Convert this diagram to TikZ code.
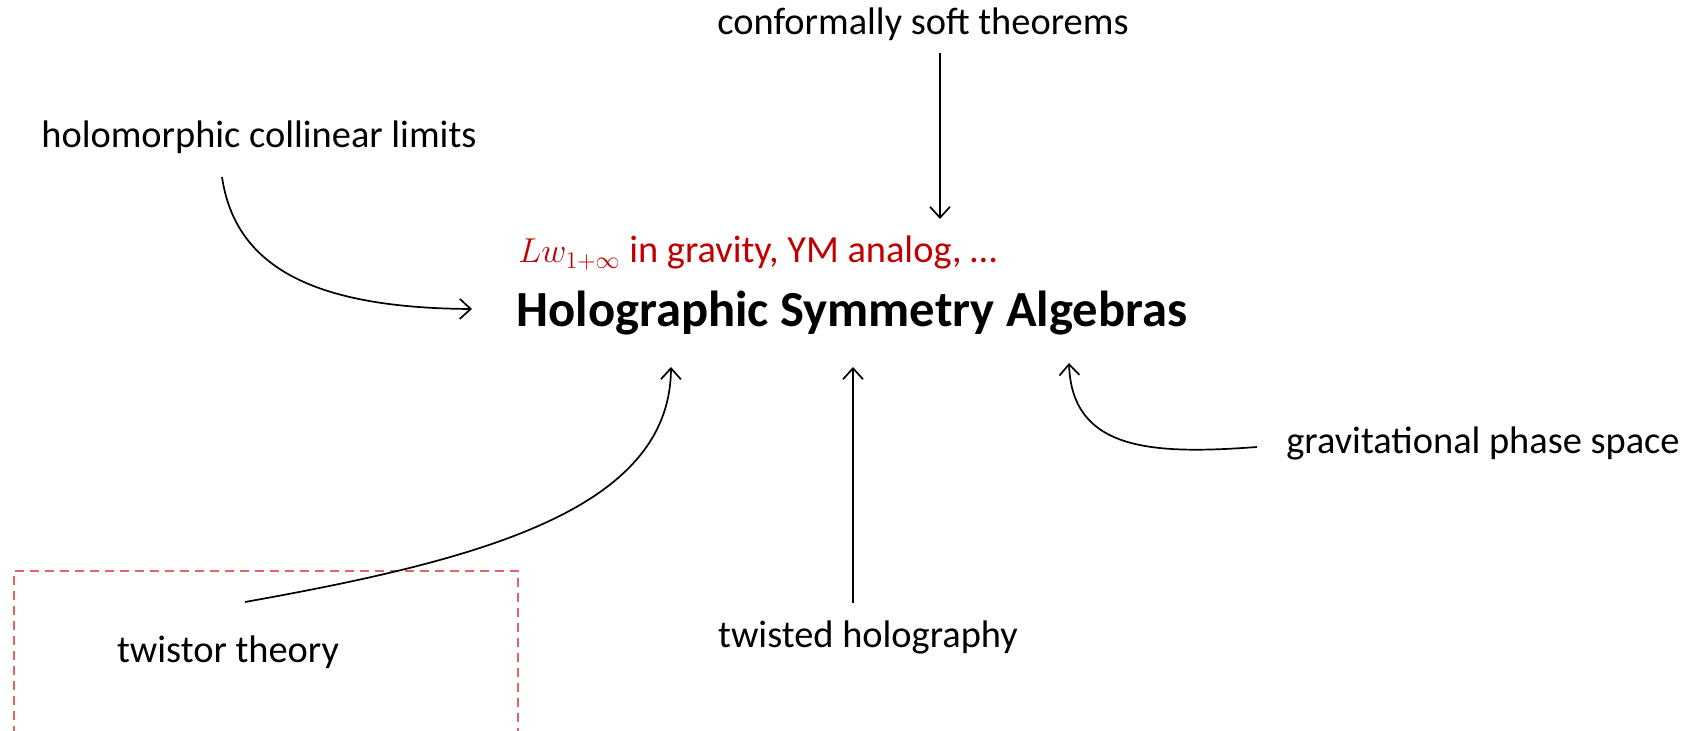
\documentclass[tikz,border=0pt]{standalone}
\usepackage{fontspec}
\setmainfont{Carlito}
\usetikzlibrary{arrows.meta}
\definecolor{redtxt}{HTML}{C00000}
\definecolor{boxred}{HTML}{E06666}
\tikzset{
  lbl/.style={inner sep=0pt, anchor=base, font=\fontsize{19.2}{23}\selectfont},
  title/.style={inner sep=0pt, anchor=base west, font=\fontsize{25.3}{30}\selectfont\bfseries},
  sub/.style={inner sep=0pt, anchor=base west, text=redtxt, font=\fontsize{19.2}{23}\selectfont},
  conn/.style={line width=0.85pt, -{Straight Barb[length=5.5pt,width=10pt,line width=0.85pt]}},
  frame/.style={draw=boxred, line width=1.1pt, dash pattern=on 4.5pt off 3pt}
}
\begin{document}
\begin{tikzpicture}[x=0.5pt,y=-0.5pt]
\useasboundingbox (0,0) rectangle (1694,731);
% texts
\node[lbl] (cst) at (923,35) {conformally soft theorems};
\node[lbl] (hcl) at (259,148) {holomorphic collinear limits};
\node[sub] (lw) at (518,263) {{\fontsize{17}{20}\selectfont$Lw_{1+\infty}$} in gravity, YM analog, \dots};
\node[title] (hsa) at (516,327) {Holographic Symmetry Algebras};
\node[lbl] (gps) at (1483,454) {gravitational phase space};
\node[lbl] (th) at (868,648) {twisted holography};
\node[lbl] (tt) at (228,663) {twistor theory};
% frame
\draw[frame] (14,735) -- (14,571) -- (518,571) -- (518,735);
% connector ends
\coordinate (cstS) at (940,53);
\coordinate (cstE) at (940,219);
\coordinate (hclS) at (222,177);
\coordinate (hclE) at (472,309);
\coordinate (ttS) at (245,602);
\coordinate (ttE) at (671,367);
\coordinate (thS) at (853,603);
\coordinate (thE) at (853,367);
\coordinate (gpsS) at (1257,447);
\coordinate (gpsE) at (1069,363);
% connectors
\draw[conn] (cstS) -- (cstE);
\draw[conn] (hclS) .. controls (235,265) and (310,308) .. (hclE);
\draw[conn] (ttS) .. controls (480,560) and (670,510) .. (ttE);
\draw[conn] (thS) -- (thE);
\draw[conn] (gpsS) .. controls (1150,455) and (1072,450) .. (gpsE);
\end{tikzpicture}
\end{document}
